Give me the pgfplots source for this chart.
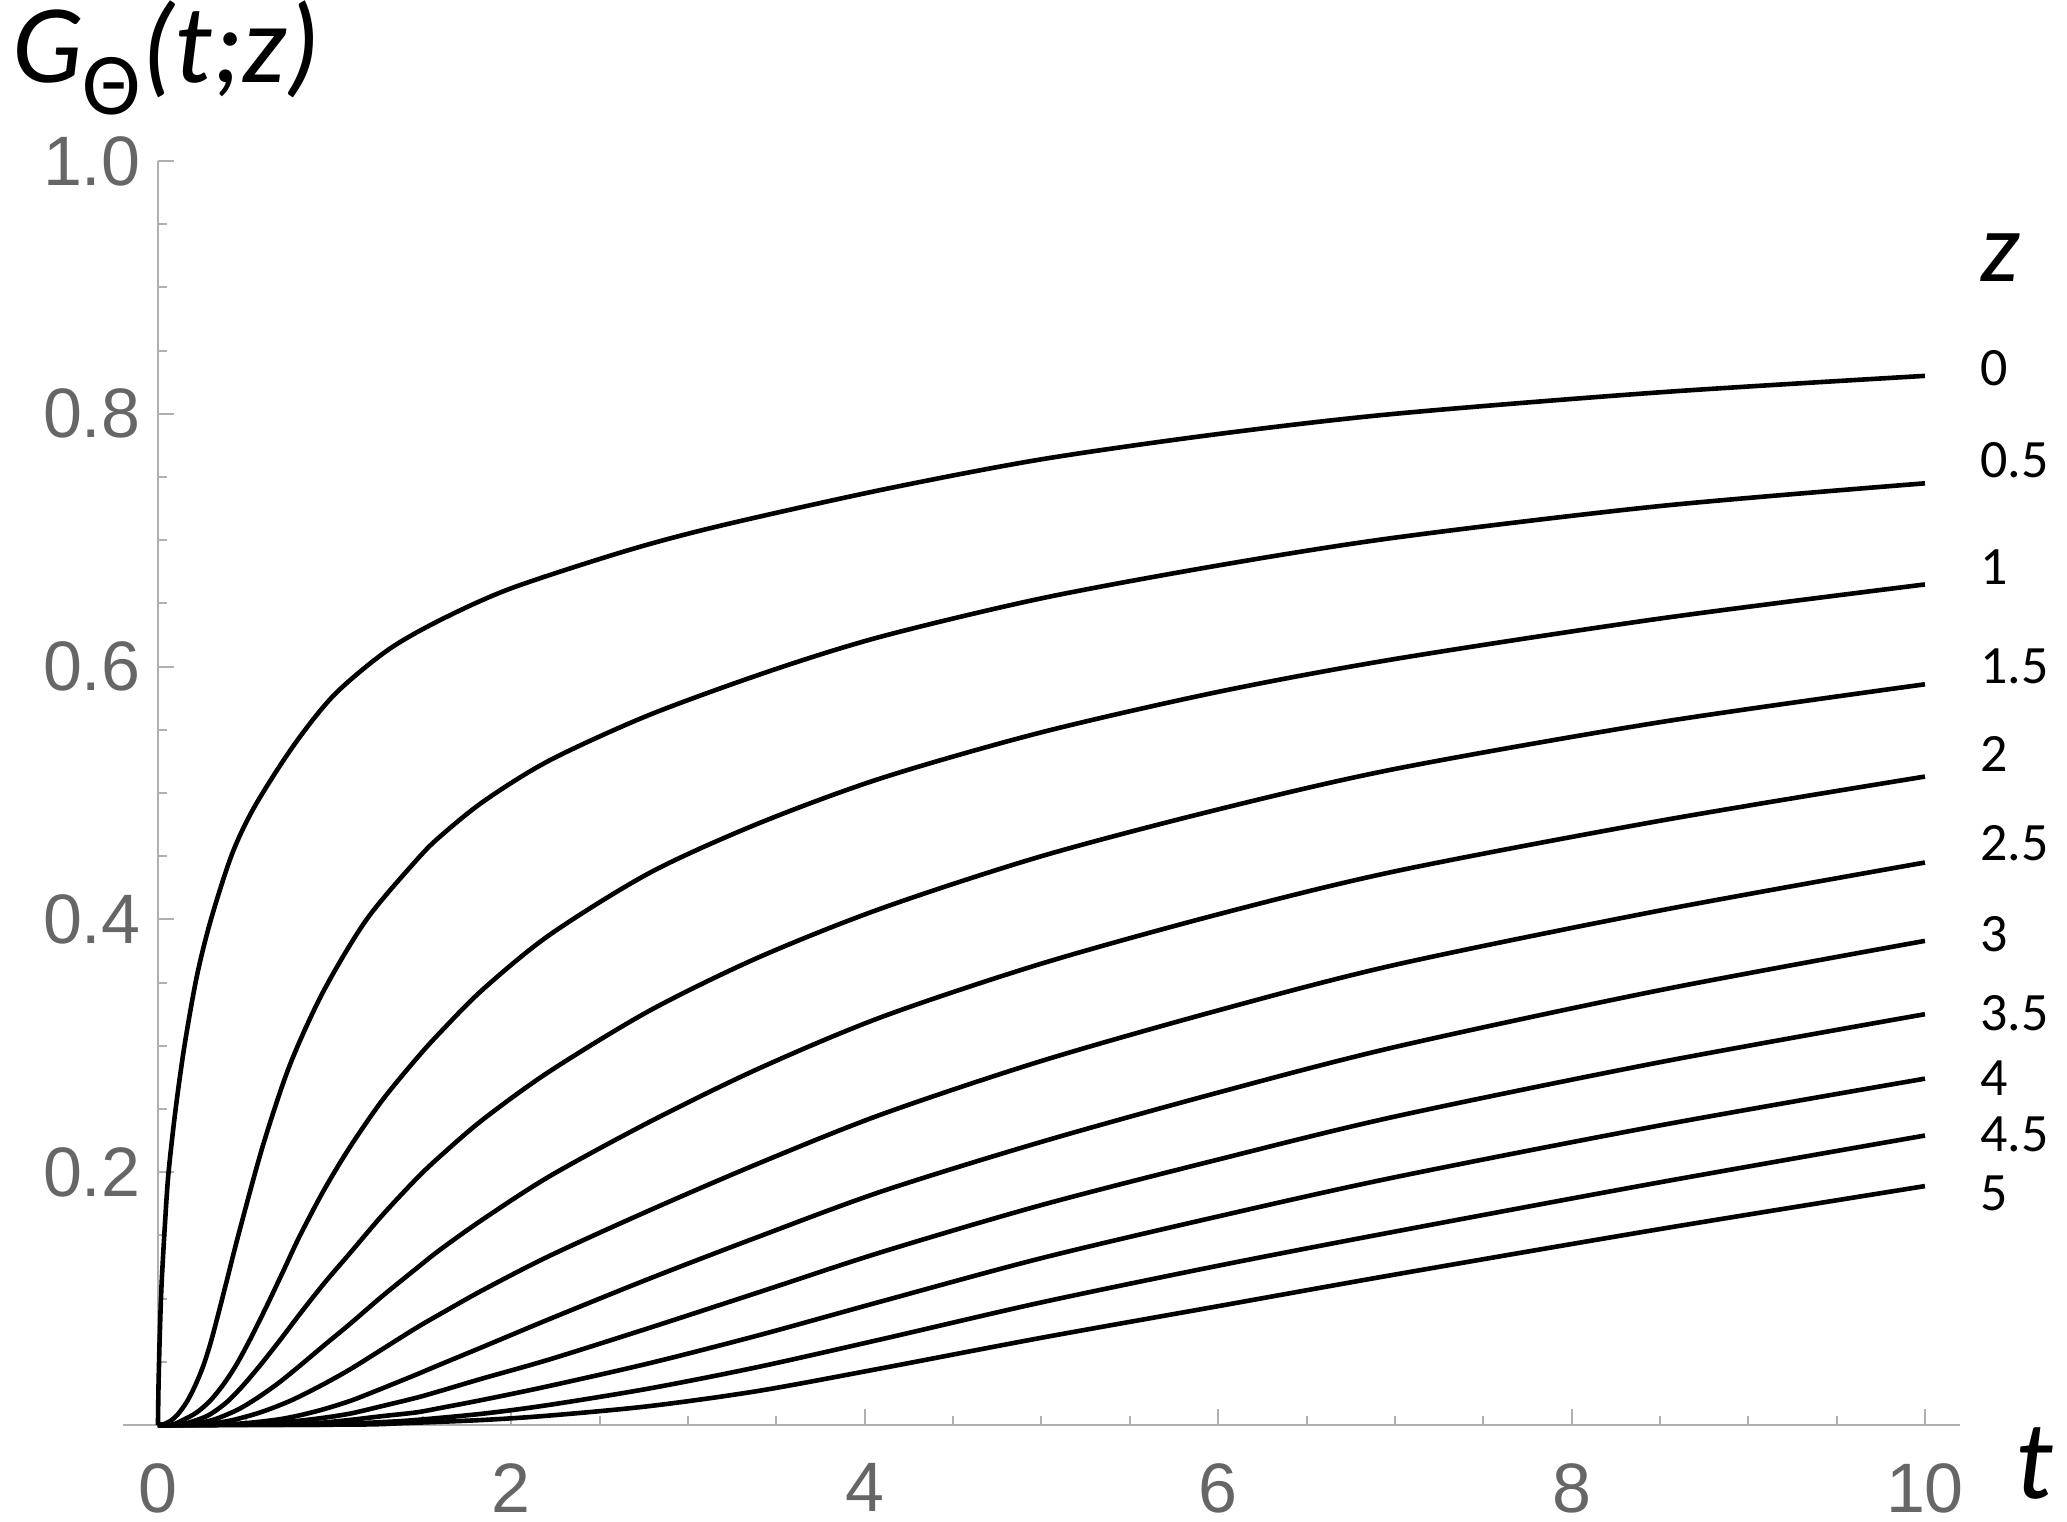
\documentclass[border=0pt]{standalone}
\usepackage{pgfplots}
\pgfplotsset{compat=1.18}
\usepackage{fontspec}
\setmainfont{Carlito}
\newfontfamily\tickfont{Liberation Sans}
\definecolor{axgray}{HTML}{B0B0B0}
\definecolor{labgray}{HTML}{666666}
\tikzset{zlab/.style={anchor=west, inner sep=0pt, font=\fontsize{13.5}{13.5}\selectfont}}

\begin{document}
\begin{tikzpicture}
\begin{axis}[
    x=44.175pt, y=316pt,
    xmin=-0.2, xmax=10.2, ymin=0, ymax=1,
    axis lines=middle,
    axis line style={draw=axgray, line width=0.5pt, -},
    xtick={0,2,4,6,8,10}, xticklabels={0,2,4,6,8,10},
    ytick={0,0.2,0.4,0.6,0.8,1.0}, yticklabels={,0.2,0.4,0.6,0.8,1.0},
    minor x tick num=3, minor y tick num=3,
    tick align=inside,
    major tick length=4pt, minor tick length=2.2pt,
    tick style={draw=axgray, line width=0.5pt},
    xticklabel style={font=\tickfont\fontsize{17.5}{17.5}\selectfont, text=labgray, anchor=north, inner sep=0pt, yshift=-9.5pt},
    yticklabel style={font=\tickfont\fontsize{17.5}{17.5}\selectfont, text=labgray, anchor=east, inner sep=0pt, xshift=-4.2pt},
    clip=false,
    curve/.style={black, line width=1.15pt, line join=round, smooth, tension=0.5},
]
% z = 0
\addplot[curve] coordinates {
(0,0)(0.003,0.03)(0.01,0.07)(0.02,0.11)(0.04,0.16)(0.06,0.20)(0.1,0.25)(0.15,0.30)
(0.22,0.355)(0.3,0.40)(0.42,0.452)(0.55,0.49)(0.77,0.538)(1.0,0.578)(1.3,0.613)
(1.6,0.637)(2.0,0.662)(2.66,0.692)(3.2,0.712)(4.1,0.740)(5,0.764)(6,0.784)(7,0.800)
(8.5,0.817)(10,0.830)};
% z = 0.5
\addplot[curve] coordinates {
(0,0)(0.03,0.0005)(0.068,0.003)(0.11,0.008)(0.162,0.018)(0.21,0.031)(0.257,0.047)
(0.3,0.066)(0.351,0.093)(0.4,0.12)(0.464,0.155)(0.596,0.222)(0.747,0.285)(0.936,0.343)
(1.181,0.400)(1.464,0.447)(1.6,0.466)(1.849,0.494)(2.219,0.526)(2.785,0.562)
(3.474,0.597)(4.1,0.624)(5,0.654)(6,0.680)(7,0.702)(8.5,0.727)(10,0.745)};
% z = 1
\addplot[curve] coordinates {
(0,0)(0.08,0.0003)(0.143,0.004)(0.22,0.010)(0.294,0.019)(0.37,0.032)(0.445,0.048)
(0.53,0.070)(0.615,0.094)(0.71,0.122)(0.804,0.150)(0.94,0.186)(1.087,0.220)(1.27,0.257)
(1.464,0.290)(1.6,0.311)(1.842,0.345)(2.219,0.388)(2.785,0.437)(3.4,0.476)(4.1,0.512)
(5,0.548)(6,0.580)(7,0.606)(8.5,0.638)(10,0.665)};
% z = 1.5
\addplot[curve] coordinates {
(0,0)(0.12,0.0003)(0.2,0.003)(0.29,0.008)(0.389,0.018)(0.48,0.031)(0.577,0.047)
(0.69,0.067)(0.804,0.088)(0.94,0.112)(1.087,0.136)(1.27,0.166)(1.464,0.195)(1.6,0.213)
(1.842,0.242)(2.219,0.280)(2.785,0.328)(3.4,0.370)(4.1,0.409)(5,0.450)(6,0.487)
(7,0.519)(8.5,0.556)(10,0.586)};
% z = 2
\addplot[curve] coordinates {
(0,0)(0.15,0.0002)(0.25,0.002)(0.332,0.005)(0.45,0.012)(0.558,0.021)(0.68,0.033)
(0.804,0.047)(0.94,0.063)(1.087,0.080)(1.27,0.102)(1.464,0.124)(1.6,0.139)(1.842,0.163)
(2.219,0.197)(2.785,0.240)(3.4,0.282)(4.1,0.323)(5,0.365)(6,0.404)(7,0.438)
(8.5,0.478)(10,0.513)};
% z = 2.5
\addplot[curve] coordinates {
(0,0)(0.2,0.0002)(0.3,0.001)(0.426,0.004)(0.58,0.010)(0.747,0.019)(0.92,0.031)
(1.087,0.044)(1.27,0.060)(1.464,0.077)(1.6,0.088)(1.842,0.107)(2.219,0.134)(2.785,0.170)
(3.4,0.207)(4.1,0.246)(5,0.288)(6,0.328)(7,0.364)(8.5,0.407)(10,0.445)};
% z = 3
\addplot[curve] coordinates {
(0,0)(0.3,0.0002)(0.5,0.0015)(0.709,0.005)(0.9,0.011)(1.087,0.019)(1.27,0.029)
(1.464,0.040)(1.6,0.048)(1.842,0.062)(2.219,0.084)(2.785,0.116)(3.4,0.149)(4.1,0.185)
(5,0.224)(6,0.263)(7,0.299)(8.5,0.344)(10,0.383)};
% z = 3.5
\addplot[curve] coordinates {
(0,0)(0.5,0.0002)(0.7,0.002)(0.9,0.005)(1.087,0.009)(1.27,0.015)(1.464,0.0216)
(1.6,0.027)(1.842,0.037)(2.219,0.052)(2.785,0.077)(3.4,0.105)(4.1,0.137)(5,0.174)
(6,0.210)(7,0.244)(8.5,0.287)(10,0.325)};
% z = 4
\addplot[curve] coordinates {
(0,0)(0.7,0.0002)(0.9,0.0015)(1.087,0.004)(1.27,0.007)(1.464,0.010)(1.6,0.0135)
(1.842,0.020)(2.219,0.031)(2.785,0.049)(3.4,0.071)(4.1,0.098)(5,0.132)(6,0.165)
(7,0.196)(8.5,0.237)(10,0.274)};
% z = 4.5
\addplot[curve] coordinates {
(0,0)(0.9,0.0002)(1.1,0.0012)(1.3,0.0025)(1.464,0.004)(1.842,0.009)(2.219,0.016)
(2.785,0.029)(3.4,0.046)(4.1,0.068)(5,0.097)(6,0.126)(7,0.153)(8.5,0.192)(10,0.229)};
% z = 5
\addplot[curve] coordinates {
(0,0)(1.1,0.0003)(1.4,0.0015)(1.842,0.004)(2.219,0.0075)(2.785,0.015)(3.4,0.027)
(4.1,0.045)(5,0.069)(6,0.094)(7,0.119)(8.5,0.155)(10,0.189)};

% tick label at the origin (pgfplots drops it for middle axes)
\node[anchor=north, inner sep=0pt, yshift=-9.5pt, text=labgray,
      font=\tickfont\fontsize{17.5}{17.5}\selectfont] at (axis cs:0,0) {0};
% axis labels
\node[anchor=base west, inner sep=0pt, font=\fontsize{28}{28}\selectfont]
  at (axis cs:-0.83,1.062) {\textit{G}\raisebox{-0.6ex}{\fontsize{22}{22}\selectfont Θ}\textit{(t;z)}};
\node[anchor=base west, inner sep=0pt, font=\itshape\fontsize{28}{28}\selectfont]
  at (axis cs:10.51,-0.058) {t};
\node[anchor=base west, inner sep=0pt, font=\itshape\fontsize{25}{25}\selectfont]
  at (axis cs:10.31,0.905) {z};
% curve labels
\node[zlab] at (axis cs:10.31,0.836) {0};
\node[zlab] at (axis cs:10.31,0.763) {0.5};
\node[zlab] at (axis cs:10.31,0.679) {1};
\node[zlab] at (axis cs:10.31,0.600) {1.5};
\node[zlab] at (axis cs:10.31,0.531) {2};
\node[zlab] at (axis cs:10.31,0.460) {2.5};
\node[zlab] at (axis cs:10.31,0.388) {3};
\node[zlab] at (axis cs:10.31,0.326) {3.5};
\node[zlab] at (axis cs:10.31,0.274) {4};
\node[zlab] at (axis cs:10.31,0.230) {4.5};
\node[zlab] at (axis cs:10.31,0.183) {5};
\coordinate (bl) at (axis cs:-0.894,-0.0767);
\coordinate (tr) at (axis cs:10.804,1.1274);
\end{axis}
\pgfresetboundingbox
\useasboundingbox (bl) rectangle (tr);
\end{tikzpicture}
\end{document}
